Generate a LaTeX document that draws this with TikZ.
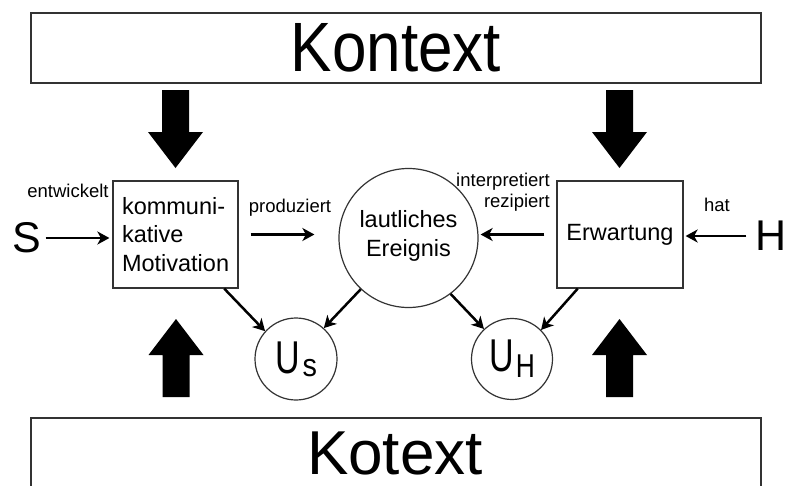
\documentclass[tikz,border=0pt]{standalone}
\usepackage{fontspec}
\setmainfont{Liberation Sans}
\usetikzlibrary{arrows.meta,calc}

\tikzset{
  frame/.style={draw=black!80, line width=1.2pt},
  boxnode/.style={frame, rectangle, inner sep=0pt},
  ring/.style={frame, circle, inner sep=0pt},
  link/.style={line width=2.5pt, -{Stealth[length=12pt,width=13pt,inset=3.5pt]}},
  lbl/.style={inner sep=0pt, font=\fontsize{18.5}{21}\selectfont},
  body/.style={font=\fontsize{23.5}{28.5}\selectfont},
  big/.style={inner sep=0pt, font=\fontsize{43}{43}\selectfont},
  bigarrow/.pic={\fill (-13.5,0) -- (13.5,0) -- (13.5,42) -- (27.5,42) -- (0,78) -- (-27.5,42) -- (-13.5,42) -- cycle;}
}

\begin{document}
\begin{tikzpicture}[x=1pt, y=-1pt]
  \useasboundingbox (0,0) rectangle (787,485);
  \fill[white] (0,0) rectangle (787,485);

  % context frames
  \node[boxnode, minimum width=730, minimum height=70] (ctx) at (396,48)
    {\fontsize{62}{62}\selectfont\scalebox{1}[1.126]{Kontext}};
  % the lower frame runs past the bottom edge, so only its outline is drawn
  \draw[frame] (31,492) |- (761,418) -- (761,492);
  \node[inner sep=0pt, font=\fontsize{62}{62}\selectfont] (cotx) at (395,453) {Kotext};

  % thick block arrows
  \pic at (175.5,90) {bigarrow};
  \pic at (619.5,90) {bigarrow};
  \pic[rotate=180] at (176,397) {bigarrow};
  \pic[rotate=180] at (619.5,397) {bigarrow};

  % speaker and hearer
  \node[big] (S) at (27,238) {S};
  \node[big] (H) at (771,236) {H};

  % main boxes
  \node[boxnode, body, minimum width=125, minimum height=107, text width=107,
        inner xsep=9pt, align=left] (mot) at (175.5,234.5)
    {kommuni-\\kative\\Motivation};
  \node[boxnode, body, minimum width=126, minimum height=107] (erw) at (620,234.5)
    {Erwartung};
  \node[ring, body, minimum size=139, align=center] (ev) at (408.5,238)
    {lautliches\\Ereignis\rule[-9pt]{0pt}{0pt}};

  % small circles
  \node[ring, minimum size=82] (us) at (296,359)
    {\scalebox{0.74}[1]{\fontsize{46}{46}\selectfont U}\kern3pt\raisebox{-3pt}{\scalebox{0.9}[1]{\fontsize{32}{32}\selectfont s}}};
  \node[ring, minimum size=81] (uh) at (512,359)
    {\scalebox{0.74}[1]{\fontsize{46}{46}\selectfont U}\kern2pt\raisebox{-6pt}{\scalebox{0.8}[1]{\fontsize{33}{33}\selectfont H}}};

  % labels
  \node[lbl] (l1) at (68,191) {entwickelt};
  \node[lbl] (l2) at (290,208) {produziert};
  \node[lbl, align=right, anchor=east] (l3) at (550,192.5) {interpretiert\\rezipiert};
  \node[lbl] (l4) at (717,205) {hat};

  % connectors
  \draw[link, shorten <=4pt, shorten >=3pt] (S.east) -- (S.east -| mot.west);
  \draw[link, shorten <=12pt, shorten >=24pt] (mot.east) -- (mot.east -| ev.west);
  \draw[link, shorten <=12pt, shorten >=2pt] (erw.west) -- (erw.west -| ev.east);
  \draw[link, shorten <=9pt, shorten >=2pt] (H.west) -- (H.west -| erw.east);

  \draw[link] (mot.-48) -- (us.138);
  \draw[link] (ev.-133) -- (us.48);
  \draw[link] (ev.-53) -- (uh.133);
  \draw[link] (erw.-128) -- (uh.45);
\end{tikzpicture}
\end{document}
